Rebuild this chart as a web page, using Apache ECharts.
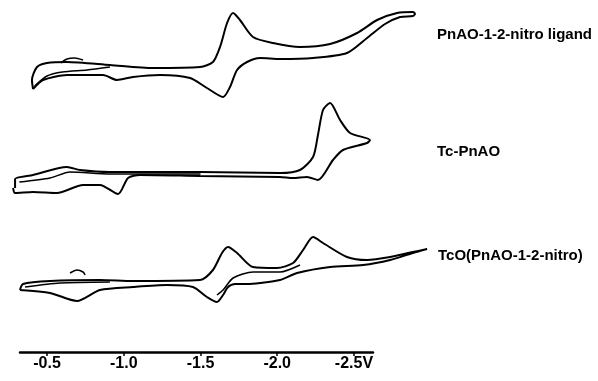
<!DOCTYPE html>
<html><head><meta charset="utf-8">
<script src="https://cdn.jsdelivr.net/npm/echarts@6/dist/echarts.min.js"></script>
<style>html,body{margin:0;padding:0;background:#fff}#c{width:598px;height:381px}</style>
</head><body><div id="c"></div>
<script>
// Potential (V) ticks
const tickValues = [-0.5, -1.0, -1.5, -2.0, -2.5];
const traceLabels = ['PnAO-1-2-nitro ligand', 'Tc-PnAO', 'TcO(PnAO-1-2-nitro)'];

// Cyclic voltammograms: [potential V, current (arb. units, stacked)]
const ligand = [[-0.409,263],[-0.402,272],[-0.435,285],[-0.5,289],[-0.630,290],[-0.910,287],[-1.191,284],[-1.497,285],[-1.581,290],[-1.627,305],[-1.673,329],[-1.712,339],[-1.757,332],[-1.842,315],[-1.972,309],[-2.148,305],[-2.344,308],[-2.520,319],[-2.650,332],[-2.780,339],[-2.884,340],[-2.897,338],[-2.884,336],[-2.800,335],[-2.702,328],[-2.585,314],[-2.454,299],[-2.233,294],[-2.018,293],[-1.888,294],[-1.803,290],[-1.738,282],[-1.692,265],[-1.647,255],[-1.542,264],[-1.432,274],[-1.236,277],[-1.060,275],[-0.956,272],[-0.865,277],[-0.630,277],[-0.474,272],[-0.409,263]];
const ligandScan2 = [[-0.42,266],[-0.50,276],[-0.60,280],[-0.76,282],[-0.91,285],null,[-0.59,289],[-0.63,293],[-0.68,294],[-0.735,292]];

const tcPnAO = [[-0.292,164],[-0.292,173],[-0.409,177],[-0.630,185],[-0.715,182],[-0.910,180],[-1.171,180],[-1.497,180],[-2.018,179],[-2.148,182],[-2.233,195],[-2.265,217],[-2.298,242],[-2.344,249],[-2.409,232],[-2.474,219],[-2.604,212],[-2.585,209],[-2.428,202],[-2.363,192],[-2.265,172],[-2.194,175],[-2.103,174],[-2.018,175],[-1.497,176],[-1.106,177],[-1.028,174],[-0.963,158],[-0.845,167],[-0.735,167],[-0.565,159],[-0.409,160],[-0.292,159],[-0.279,164]];
const tcPnAOScan2 = [[-0.32,170],[-0.52,174],[-0.65,180],[-0.91,178],[-1.5,178]];

const tcO = [[-0.324,62],[-0.344,68],[-0.520,71],[-0.845,72],[-1.060,71],[-1.497,72],[-1.581,82],[-1.640,99],[-1.679,105],[-1.738,99],[-1.842,85],[-1.998,84],[-2.103,89],[-2.168,102],[-2.233,115],[-2.298,109],[-2.454,95],[-2.585,92],[-2.735,95],[-2.884,100],[-2.976,103],[-2.884,99],[-2.735,92],[-2.559,87],[-2.344,85],[-2.129,79],[-2.018,72],[-1.888,69],[-1.803,68],[-1.725,68],[-1.679,65],[-1.647,57],[-1.607,50],[-1.542,55],[-1.451,65],[-1.282,67],[-1.060,65],[-0.845,62],[-0.695,51],[-0.520,59],[-0.324,62]];
const tcOScan2 = [[-1.607,57],[-1.647,62],[-1.712,74],[-1.842,80],[-2.018,80],[-2.148,87],null,[-0.65,79],[-0.695,82],[-0.735,80],[-0.748,77],null,[-0.357,65],[-0.585,69],[-0.910,70]];

const chart = echarts.init(document.getElementById('c'));
function mk(data, w){ return {type:'line', xAxisIndex:0, yAxisIndex:0, data:data, showSymbol:false, symbol:'none', smooth:0.25, clip:false, connectNulls:false, lineStyle:{color:'#000', width:w}, silent:true, animation:false}; }
const labelFont = 'bold 15px "Liberation Sans", Arial, sans-serif';
chart.setOption({
  animation:false,
  backgroundColor:'#fff',
  grid:[
    {left:10, right:158, top:0, bottom:29},
    {left:20, right:225, top:0, bottom:29}
  ],
  xAxis:[
    {gridIndex:0, type:'value', inverse:true, min:-3.060, max:-0.259, show:false},
    {gridIndex:1, type:'value', inverse:true, min:-2.624, max:-0.324,
     axisLine:{show:true, lineStyle:{color:'#000', width:2.5}},
     axisTick:{show:true, length:4, customValues:tickValues, lineStyle:{color:'#000', width:1.5}},
     splitLine:{show:false},
     axisLabel:{customValues:tickValues, margin:4, color:'#000', fontFamily:'"Liberation Sans Narrow", "Liberation Sans", Arial, sans-serif', fontWeight:'bold', fontSize:16,
       formatter:function(v){ return v === -2.5 ? '-2.5V' : v.toFixed(1); }}}
  ],
  yAxis:[
    {gridIndex:0, type:'value', min:0, max:352, show:false},
    {gridIndex:1, type:'value', min:0, max:352, show:false}
  ],
  series:[
    mk(ligand,2), mk(ligandScan2,1.5),
    mk(tcPnAO,2), mk(tcPnAOScan2,1.5),
    mk(tcO,2), mk(tcOScan2,1.5)
  ],
  graphic:[
    {type:'text', left:437, top:27, style:{text:traceLabels[0], fill:'#000', font:labelFont}},
    {type:'text', left:437, top:144, style:{text:traceLabels[1], fill:'#000', font:labelFont}},
    {type:'text', left:438, top:248, style:{text:traceLabels[2], fill:'#000', font:labelFont}}
  ]
});
</script></body></html>
